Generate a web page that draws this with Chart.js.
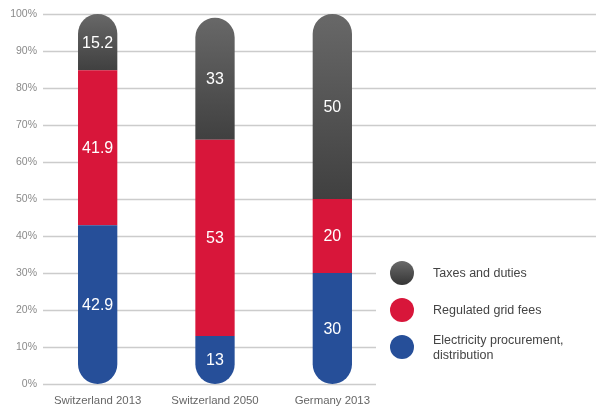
<!DOCTYPE html>
<html>
<head>
<meta charset="utf-8">
<script src="https://cdn.jsdelivr.net/npm/chart.js@4.4.0/dist/chart.umd.min.js"></script>
<style>
  html, body { margin: 0; padding: 0; background: #ffffff; }
  #wrap { position: relative; width: 596px; height: 407px; }
  canvas { display: block; }
</style>
</head>
<body>
<div id="wrap"><canvas id="c" width="596" height="407"></canvas></div>
<script>
const categories = ['Switzerland 2013', 'Switzerland 2050', 'Germany 2013'];
const procurement = [42.9, 13, 30];
const gridFees = [41.9, 53, 20];
const taxes = [15.2, 33, 50];
const seriesNames = ['Taxes and duties', 'Regulated grid fees', ['Electricity procurement,', 'distribution']];
const yTicks = [0, 10, 20, 30, 40, 50, 60, 70, 80, 90, 100];

const RED = '#d8163a';
const BLUE = '#264f99';
const FONT = '"Liberation Sans", Arial, sans-serif';

function greyGradient(ctx) {
  const chart = ctx.chart;
  if (!chart.chartArea || ctx.dataIndex === undefined) return '#555555';
  const y = chart.scales.y;
  const i = ctx.dataIndex;
  const start = procurement[i] + gridFees[i];
  const y0 = y.getPixelForValue(start + taxes[i]);
  const y1 = y.getPixelForValue(start);
  const g = chart.ctx.createLinearGradient(0, y0, 0, y1);
  g.addColorStop(0, '#686868');
  g.addColorStop(1, '#404040');
  return g;
}

const gridPlugin = {
  id: 'customGrid',
  beforeDatasetsDraw(chart) {
    const c = chart.ctx, y = chart.scales.y;
    const left = y.right + 4;
    const legendEdge = chart.chartArea.right - 15;
    c.save();
    c.strokeStyle = '#cccccc';
    c.lineWidth = 1.3;
    yTicks.forEach(v => {
      const py = Math.round(y.getPixelForValue(v)) + 0.5;
      const right = v <= 30 ? legendEdge : chart.width;
      c.beginPath();
      c.moveTo(left, py);
      c.lineTo(right, py);
      c.stroke();
    });
    c.restore();
  }
};

const labelPlugin = {
  id: 'valueLabels',
  afterDatasetsDraw(chart) {
    const c = chart.ctx;
    c.save();
    c.fillStyle = '#ffffff';
    c.font = '16px ' + FONT;
    c.textAlign = 'center';
    c.textBaseline = 'middle';
    chart.data.datasets.forEach((ds, di) => {
      const meta = chart.getDatasetMeta(di);
      meta.data.forEach((el, i) => {
        const cy = (el.y + el.base) / 2;
        c.fillText(String(ds.data[i]), el.x, cy + 1);
      });
    });
    c.restore();
  }
};

const legendPlugin = {
  id: 'sideLegend',
  afterDraw(chart) {
    const c = chart.ctx, y = chart.scales.y;
    const cx = chart.chartArea.right + 11;
    const tx = cx + 31;
    const rows = [
      { v: 30, name: seriesNames[0], color: 'grey' },
      { v: 20, name: seriesNames[1], color: RED },
      { v: 10, name: seriesNames[2], color: BLUE }
    ];
    c.save();
    rows.forEach(r => {
      const cy = y.getPixelForValue(r.v);
      let fill = r.color;
      if (fill === 'grey') {
        const g = c.createLinearGradient(0, cy - 12, 0, cy + 12);
        g.addColorStop(0, '#6a6a6a');
        g.addColorStop(1, '#353535');
        fill = g;
      }
      c.fillStyle = fill;
      c.beginPath();
      c.arc(cx, cy, 12, 0, Math.PI * 2);
      c.fill();
      c.fillStyle = '#444444';
      c.font = '12.5px ' + FONT;
      c.textAlign = 'left';
      c.textBaseline = 'middle';
      if (Array.isArray(r.name)) {
        c.fillText(r.name[0], tx, cy - 6);
        c.fillText(r.name[1], tx, cy + 9);
      } else {
        c.fillText(r.name, tx, cy + 1);
      }
    });
    c.restore();
  }
};

const bigR = 20;
new Chart(document.getElementById('c'), {
  type: 'bar',
  data: {
    labels: categories,
    datasets: [
      { label: 'Electricity procurement, distribution', data: procurement, backgroundColor: BLUE,
        borderSkipped: false, borderRadius: { topLeft: 0, topRight: 0, bottomLeft: bigR, bottomRight: bigR } },
      { label: 'Regulated grid fees', data: gridFees, backgroundColor: RED,
        borderSkipped: false, borderRadius: 0 },
      { label: 'Taxes and duties', data: taxes, backgroundColor: greyGradient,
        borderSkipped: false, borderRadius: { topLeft: bigR, topRight: bigR, bottomLeft: 0, bottomRight: 0 } }
    ]
  },
  options: {
    responsive: false,
    animation: false,
    devicePixelRatio: 1,
    layout: { padding: { top: 14, right: 205, bottom: 0, left: 0 } },
    datasets: { bar: { categoryPercentage: 1, barPercentage: 0.335 } },
    plugins: { legend: { display: false }, tooltip: { enabled: false } },
    scales: {
      x: {
        stacked: true,
        grid: { display: false, drawTicks: false },
        border: { display: false },
        afterFit(axis) { axis.height = 23; },
        ticks: { color: '#666666', font: { family: FONT, size: 11.4 }, padding: 10 }
      },
      y: {
        stacked: true,
        min: 0, max: 100,
        grid: { display: false, drawTicks: false },
        border: { display: false },
        afterBuildTicks(axis) { axis.ticks = yTicks.map(v => ({ value: v })); },
        afterFit(axis) { axis.width = 39; },
        ticks: { color: '#8a8a8a', font: { family: FONT, size: 10.5 }, padding: 2,
                 callback: v => v + '%' }
      }
    }
  },
  plugins: [gridPlugin, labelPlugin, legendPlugin]
});
</script>
</body>
</html>
